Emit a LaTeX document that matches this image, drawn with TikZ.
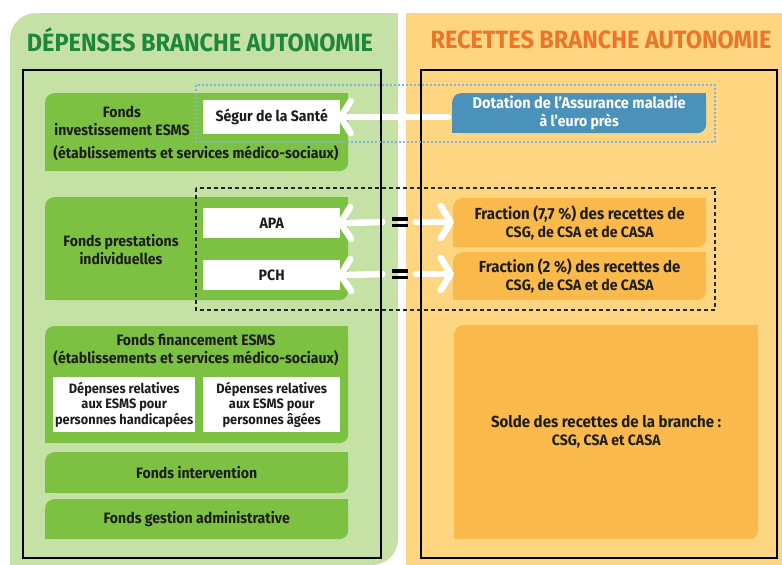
\documentclass[tikz,border=0pt]{standalone}
\usepackage{fontspec}
\setmainfont{Fira Sans}[FakeStretch=0.94]
\usetikzlibrary{arrows.meta}
\definecolor{panelG}{HTML}{C6E1A6}
\definecolor{boxG}{HTML}{7DC143}
\definecolor{panelO}{HTML}{FED681}
\definecolor{boxO}{HTML}{FAB94B}
\definecolor{boxB}{HTML}{4A92BA}
\definecolor{dotB}{HTML}{7FB3D8}
\definecolor{titleG}{HTML}{1F873B}
\definecolor{titleO}{HTML}{EC7628}
\definecolor{ink}{HTML}{1D1D1B}
\newcommand\rbox[7]{%
  \node[fill=#2, rounded corners=9pt, inner sep=0pt, anchor=north west,
        minimum width=#5pt, minimum height=#6pt, align=center, txt] (#1) at (#3,#4) {#7};
  \fill[#2] (#1.north east) rectangle ++(-12pt,-12pt);
  \fill[#2] (#1.south west) rectangle ++(12pt,12pt);}
\newcommand\eqbars[1]{%
  \fill[black] (#1.north west) rectangle ([yshift=-3.7pt]#1.north east);
  \fill[black] (#1.south west) rectangle ([yshift=3.7pt]#1.south east);}
\tikzset{
  txt/.style={text=ink, font=\bfseries\fontsize{15}{18}\selectfont},
  wbox/.style={fill=white, inner sep=0pt, anchor=north west, align=center, txt},
  esms/.style={wbox, minimum height=55pt, font=\bfseries\fontsize{13.6}{15.8}\selectfont},
  warrow/.style={draw=white, line width=6.5pt, line cap=round,
     -{Straight Barb[length=10pt, width=32pt, round]}},
  frame/.style={draw=black, line width=1.6pt},
  eqsign/.style={inner sep=0pt, minimum width=15pt, minimum height=10pt},
  title/.style={font=\bfseries\fontsize{25}{27}\selectfont},
}
\begin{document}
\begin{tikzpicture}[x=1pt,y=-1pt]
\useasboundingbox (0,0) rectangle (782,565);
\fill[white] (0,0) rectangle (782,565);
% panels
\fill[panelG, rounded corners=26pt] (10,13) rectangle (398,565);
\fill[panelG] (398,13) rectangle (360,60);
\fill[panelG] (10,565) rectangle (60,520);
\fill[panelO] (406,13) rectangle (782,565);
% titles
\node[title, text=titleG] (tg) at (200,40) {DÉPENSES BRANCHE AUTONOMIE};
\node[title, text=titleO] (to) at (601,40) {RECETTES BRANCHE AUTONOMIE};
% left boxes
\rbox{inv}{boxG}{45}{93}{303}{78}{}
\node[txt, align=center] (invt) at (122,121) {Fonds\\investissement ESMS};
\node[txt] (invs) at (196,153) {(établissements et services médico-sociaux)};
\node[wbox, minimum width=137pt, minimum height=34pt] (segur) at (203,100) {Ségur de la Santé};
\rbox{prest}{boxG}{45}{197}{303}{103}{}
\node[txt, align=center] (prestt) at (121,250) {Fonds prestations\\individuelles};
\node[wbox, minimum width=137pt, minimum height=30pt] (apa) at (203,208) {APA};
\node[wbox, minimum width=137pt, minimum height=30pt] (pch) at (203,260) {PCH};
\rbox{fin}{boxG}{45}{326}{303}{117}{}
\node[txt, align=center] (fint) at (196,350) {Fonds financement ESMS\\(établissements et services médico-sociaux)};
\node[esms, minimum width=142pt] (ph) at (53,377) {Dépenses relatives\\aux ESMS pour\\personnes handicapées};
\node[esms, minimum width=137pt] (pa) at (203,377) {Dépenses relatives\\aux ESMS pour\\personnes âgées};
\rbox{interv}{boxG}{45}{452}{303}{41}{Fonds intervention}
\rbox{gest}{boxG}{45}{499}{303}{40}{Fonds gestion administrative}
% right boxes
\rbox{dot}{boxB}{452}{93}{254}{40}{\fontsize{15.5}{15}\selectfont\color{white}Dotation de l’Assurance maladie\\\color{white}à l’euro près}
\rbox{f1}{boxO}{453}{198}{253}{49}{\fontsize{16}{17}\selectfont Fraction (7,7 \%) des recettes de\\CSG, de CSA et de CASA}
\rbox{f2}{boxO}{453}{252}{253}{48}{\fontsize{16}{17}\selectfont Fraction (2 \%) des recettes de\\CSG, de CSA et de CASA}
\rbox{solde}{boxO}{454}{325}{304}{214}{\fontsize{16}{22}\selectfont Solde des recettes de la branche :\\CSG, CSA et CASA}
% equal signs
\node[eqsign] (eq1) at (400,222) {};
\node[eqsign] (eq2) at (400,274) {};
% arrows
\draw[warrow, shorten >=-3pt] ([xshift=-4pt]dot.west |- segur.east) -- (segur.east);
\draw[warrow, shorten >=-3pt] ([xshift=-10pt]eq1.west) -- (apa.east);
\draw[warrow, shorten >=-3pt] ([xshift=-10pt]eq2.west) -- (pch.east);
\draw[warrow, shorten >=-1pt] ([xshift=8pt]eq1.east) -- (eq1.east -| f1.west);
\draw[warrow, shorten >=-1pt] ([xshift=8pt]eq2.east) -- (eq2.east -| f2.west);
% white gap between the panels
\fill[white] (398,100) rectangle (406,300);
\eqbars{eq1}
\eqbars{eq2}
% frames
\draw[frame] (23,70) rectangle (381,558);
\draw[frame] (421,70) rectangle (777,558);
% dotted / dashed groups
\draw[dotB, line width=1.6pt, dash pattern=on 1.6pt off 2.4pt] (196,85) rectangle (715,142);
\draw[black!85, line width=1.4pt, dash pattern=on 4pt off 3pt] (196,188) rectangle (715,310);
\end{tikzpicture}
\end{document}
